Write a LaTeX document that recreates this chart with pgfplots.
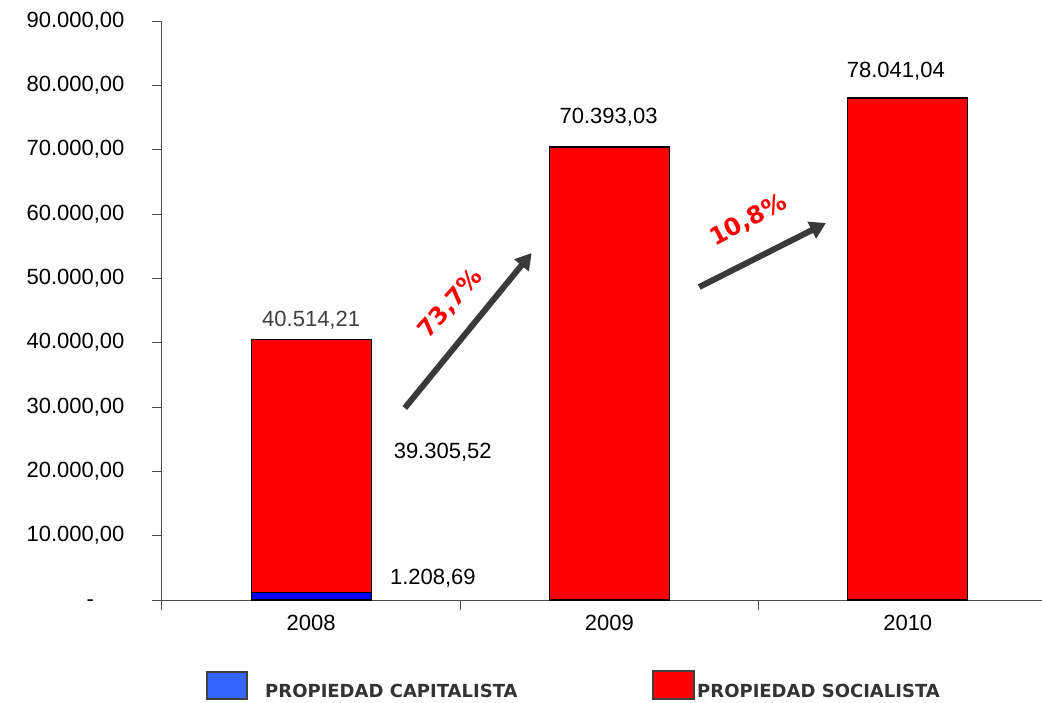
\documentclass[border=0pt]{standalone}
\usepackage{fontspec}
\setmainfont{Liberation Sans}
\newfontfamily\verd{DejaVu Sans}
\usepackage{pgfplots}
\pgfplotsset{compat=1.18}
\usetikzlibrary{arrows.meta}
\definecolor{capblue}{HTML}{0000FF}
\definecolor{legblue}{HTML}{3366FF}
\definecolor{arrowgray}{HTML}{3A3A3A}
\definecolor{labgray}{HTML}{404040}
\definecolor{leggray}{HTML}{333333}
\begin{document}
\begin{tikzpicture}[x=1pt,y=1pt]
\useasboundingbox (0,0) rectangle (1042,702);
\begin{axis}[
  at={(162pt,102pt)}, anchor=south west,
  scale only axis, width=880pt, height=579pt,
  xmin=-0.5, xmax=2.45, ymin=0, ymax=90000,
  scaled y ticks=false,
  axis x line*=bottom, axis y line*=left,
  axis line style={draw=black!70, line width=1pt},
  ybar stacked, bar width=120pt,
  ytick={0,10000,20000,30000,40000,50000,60000,70000,80000,90000},
  yticklabels={{-\phantom{,00}},{10.000,00},{20.000,00},{30.000,00},{40.000,00},{50.000,00},{60.000,00},{70.000,00},{80.000,00},{90.000,00}},
  yticklabel style={font=\fontsize{22}{22}\selectfont, xshift=-24pt},
  ytick style={draw=black!70, line width=1pt},
  major tick length=10pt, tick align=outside,
  xtick={-0.5,0.5,1.5},
  xticklabels={},
  xtick style={draw=black!70, line width=1pt},
  extra x ticks={0,1,2},
  extra x tick labels={2008,2009,2010},
  extra x tick style={major tick length=0pt, xticklabel style={font=\fontsize{22}{22}\selectfont, yshift=-12pt}},
  clip=false,
]
\addplot[fill=capblue, draw=black, line width=1.3pt] coordinates {(0,1208.69) (1,0) (2,0)};
\addplot[fill=red, draw=black, line width=1.3pt] coordinates {(0,39305.52) (1,70393.03) (2,78041.04)};

\node[text=labgray, font=\fontsize{22}{22}\selectfont] at (axis cs:0,43523) {40.514,21};
\node[font=\fontsize{22}{22}\selectfont] at (axis cs:0.997,75078) {70.393,03};
\node[font=\fontsize{22}{22}\selectfont] at (axis cs:1.96,82228) {78.041,04};
\node[font=\fontsize{22}{22}\selectfont] at (axis cs:0.441,23005) {39.305,52};
\node[font=\fontsize{22}{22}\selectfont] at (axis cs:0.408,3420) {1.208,69};

\draw[arrowgray, line width=6pt, -{Triangle[length=16pt,width=18pt]}] (axis cs:0.314,29845) -- (axis cs:0.739,53938);
\draw[arrowgray, line width=6pt, -{Triangle[length=16pt,width=18pt]}] (axis cs:1.301,48653) -- (axis cs:1.726,58601);

\node[text=red, font=\verd\bfseries\fontsize{24}{24}\selectfont, rotate=48, inner sep=0pt] at (axis cs:0.468,46010) {73,7\%};
\node[text=red, font=\verd\bfseries\fontsize{24}{24}\selectfont, rotate=28, inner sep=0pt] at (axis cs:1.466,59000) {10,8\%};
\end{axis}
% legend
\draw[fill=legblue, draw=labgray, line width=1.5pt] (207,3) rectangle (247,30);
\node[anchor=west, inner sep=0pt, text=leggray, font=\verd\bfseries\fontsize{18}{18}\selectfont] at (265,11) {PROPIEDAD CAPITALISTA};
\draw[fill=red, draw=labgray, line width=1.5pt] (653,3) rectangle (694,31);
\node[anchor=west, inner sep=0pt, text=leggray, font=\verd\bfseries\fontsize{18}{18}\selectfont] at (697,11) {PROPIEDAD SOCIALISTA};
\end{tikzpicture}
\end{document}
